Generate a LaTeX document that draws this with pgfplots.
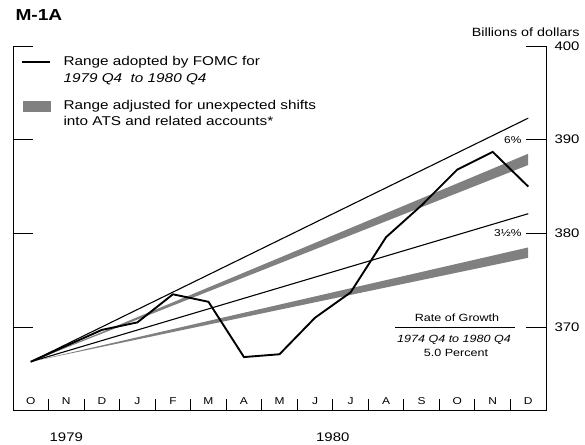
\documentclass[border=0pt]{standalone}
\usepackage{pgfplots}
\pgfplotsset{compat=1.18}
\usepackage{pgfplotstable}
\usepackage{fontspec}
\setmainfont{Liberation Sans}[FakeStretch=1.2]
\definecolor{band}{gray}{0.5}

% M-1A actual, monthly (Oct 1979 = 0.5 ... Dec 1980 = 14.5)
\pgfplotstableread{
x     y
0.5   366.3
1.5   368.0
2.5   369.7
3.5   370.5
4.5   373.5
5.5   372.7
6.5   366.8
7.5   367.1
8.5   371.0
9.5   373.7
10.5  379.6
11.5  383.0
12.5  386.8
13.5  388.7
14.5  385.0
}\actual

\begin{document}
\begin{tikzpicture}
\useasboundingbox (-13bp,-35bp) rectangle (572bp,410bp);
\begin{axis}[at={(0bp,0bp)}, anchor=south west, scale only axis,
  width=533bp, height=364bp,
  xmin=0, xmax=15, ymin=361.15, ymax=400,
  axis line style={draw=none}, clip=false,
  tick align=inside,
  xtick={0.5,1.5,...,14.5},
  xticklabels={O,N,D,J,F,M,A,M,J,J,A,S,O,N,D},
  minor xtick={1,2,...,14},
  xtick pos=left,
  xtick style={/pgfplots/major tick length=0pt, /pgfplots/minor tick length=11bp, line width=0.9pt, black},
  xticklabel style={anchor=base, yshift=6bp, font=\fontsize{10}{12}\selectfont},
  ytick={370,380,390,400}, yticklabels={370,380,390,400},
  ytick pos=both, yticklabel pos=right,
  ytick style={/pgfplots/major tick length=20bp, line width=0.9pt, black},
  yticklabel style={anchor=west, xshift=5bp, font=\fontsize{12.5}{15}\selectfont},
  /pgf/number format/assume math mode=true]

% adjusted ranges (shaded)
\addplot[fill=band, draw=none] coordinates {(0.5,366.3)(14.5,388.5)(14.5,387.3)} -- cycle;
\addplot[fill=band, draw=none] coordinates {(0.5,366.3)(14.5,378.5)(14.5,377.4)} -- cycle;
% FOMC cone
\addplot[black, line width=1.1pt] coordinates {(0.5,366.3)(14.5,392.3)};
\addplot[black, line width=1.1pt] coordinates {(0.5,366.3)(14.5,382.1)};
% actual
\addplot[black, line width=1.9pt] table[x=x,y=y] {\actual};

\draw[line width=1pt] (rel axis cs:0,1) -- (rel axis cs:0,0) -- (rel axis cs:1,0) -- (rel axis cs:1,1);

\node[anchor=east, font=\fontsize{10}{12}\selectfont] at (axis cs:15,390) [xshift=-21bp] {6\%};
\node[anchor=east, font=\fontsize{10}{12}\selectfont] at (axis cs:15,380) [xshift=-21bp] {3½\%};

\node[anchor=base, font=\fontsize{12.5}{15}\selectfont] at (axis cs:1.5,361.15) [yshift=-31bp] {1979};
\node[anchor=base, font=\fontsize{12.5}{15}\selectfont] at (axis cs:9,361.15) [yshift=-31bp] {1980};
\end{axis}

% title and unit
\node[anchor=base west, font=\bfseries\fontsize{16}{18}\selectfont] at (-1bp,389bp) {M-1A};
\node[anchor=base east, font=\fontsize{12}{14}\selectfont] at (570bp,373bp) {Billions of dollars};

% legend
\draw[line width=1.3pt] (9bp,348bp) -- (37bp,348bp);
\fill[band] (10bp,298bp) rectangle (38bp,309bp);
\begin{scope}[every node/.style={anchor=base west, font=\fontsize{12.8}{14}\selectfont}]
\node at (47bp,344bp) {Range adopted by FOMC for};
\node at (47bp,327bp) {\itshape 1979 Q4 \ to 1980 Q4};
\node at (47bp,300bp) {Range adjusted for unexpected shifts};
\node at (47bp,284bp) {into ATS and related accounts*};
\end{scope}

% rate of growth note
\draw[line width=0.8pt] (382bp,83bp) -- (502bp,83bp);
\begin{scope}[every node/.style={anchor=base, font=\fontsize{10.5}{13}\selectfont}]
\node at (444bp,88bp) {Rate of Growth};
\node at (441bp,67bp) {\itshape 1974 Q4 to 1980 Q4};
\node at (443bp,53bp) {5.0 Percent};
\end{scope}
\end{tikzpicture}
\end{document}
